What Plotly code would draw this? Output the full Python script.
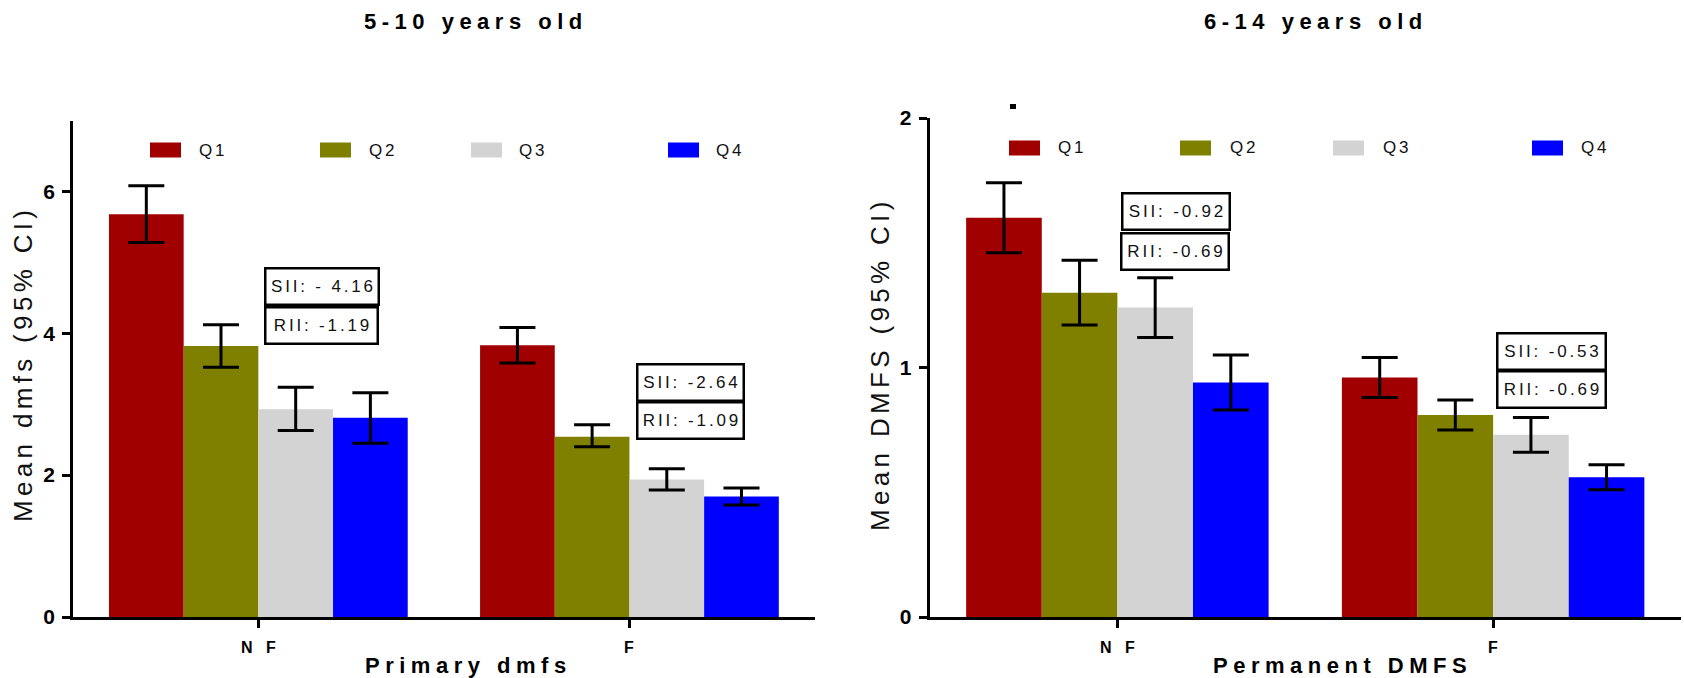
import plotly.graph_objects as go

# ---------------- data ----------------
categories = ["NF", "F"]
quartiles = ["Q1", "Q2", "Q3", "Q4"]
colors = ["#A00000", "#808000", "#D3D3D3", "#0000FF"]

# Primary dmfs, 5-10 years old (rows = Q1..Q4, cols = NF, F)
primary_mean = [[5.68, 3.83], [3.82, 2.54], [2.93, 1.94], [2.81, 1.70]]
primary_low = [[5.28, 3.58], [3.52, 2.40], [2.63, 1.79], [2.45, 1.58]]
primary_high = [[6.08, 4.08], [4.12, 2.71], [3.24, 2.09], [3.16, 1.82]]

# Permanent DMFS, 6-14 years old
permanent_mean = [[1.60, 0.96], [1.30, 0.81], [1.24, 0.73], [0.94, 0.56]]
permanent_low = [[1.46, 0.88], [1.17, 0.75], [1.12, 0.66], [0.83, 0.51]]
permanent_high = [[1.74, 1.04], [1.43, 0.87], [1.36, 0.80], [1.05, 0.61]]

primary_sii = ["- 4.16", "-2.64"]
primary_rii = ["-1.19", "-1.09"]
permanent_sii = ["-0.92", "-0.53"]
permanent_rii = ["-0.69", "-0.69"]

left_ticks = [0, 2, 4, 6]
right_ticks = [0, 1, 2]

# ---------------- helpers ----------------
W, H = 1684, 678
NB = "\u00a0"
S4 = "\u2005"   # 1/4 em
S6 = "\u2006"   # 1/6 em
FONT = "Liberation Sans, Arial, sans-serif"


def sp(text, sep):
    return sep.join(NB if c == " " else c for c in text)


def px(x):
    return x / W


def py(y):
    return 1 - y / H


fig = go.Figure()

panels = [
    ("x", "y", primary_mean, primary_low, primary_high),
    ("x2", "y2", permanent_mean, permanent_low, permanent_high),
]
for xa, ya, mean, low, high in panels:
    for qi, q in enumerate(quartiles):
        m = mean[qi]
        fig.add_trace(go.Bar(
            x=categories, y=m, name=q, xaxis=xa, yaxis=ya,
            marker=dict(color=colors[qi], line=dict(width=0)),
            error_y=dict(type="data", symmetric=False,
                         array=[h - v for h, v in zip(high[qi], m)],
                         arrayminus=[v - l for v, l in zip(m, low[qi])],
                         color="black", thickness=3, width=18),
            showlegend=False,
        ))

axis_common = dict(showline=True, linecolor="black", linewidth=2.5,
                   ticks="outside", ticklen=8, tickwidth=2.5, tickcolor="black",
                   showgrid=False, zeroline=False, automargin=False)
yt_font = dict(family=FONT, size=21, color="black", weight="bold")

fig.update_layout(
    width=W, height=H,
    margin=dict(l=0, r=0, t=0, b=0),
    paper_bgcolor="white", plot_bgcolor="white",
    barmode="group", bargap=0.195, bargroupgap=0,
    showlegend=False,
    xaxis=dict(domain=[px(72.8), px(815)], range=[-0.5, 1.5], type="category",
               tickvals=categories, showticklabels=False, anchor="y", **axis_common),
    yaxis=dict(domain=[py(617), py(120.5)], range=[0, 7], tickvals=left_ticks,
               tickfont=yt_font, ticklabelstandoff=3, anchor="x", **axis_common),
    xaxis2=dict(domain=[px(929.5), px(1681)], range=[-0.5, 1.5], type="category",
                tickvals=categories, showticklabels=False, anchor="y2", **axis_common),
    yaxis2=dict(domain=[py(617), py(118)], range=[0, 2], tickvals=right_ticks,
                tickfont=yt_font, ticklabelstandoff=3, anchor="x2", **axis_common),
)

ann = []
# category labels under each x axis
for xa in ["x", "x2"]:
    for c in categories:
        ann.append(dict(text=sp(c, NB + NB + NB), x=c, y=py(647), xref=xa, yref="paper",
                        xanchor="center", yanchor="middle", showarrow=False,
                        font=dict(family=FONT, size=16, color="black", weight="bold")))
# titles
for text, cx in [("5-10 years old", 472.6), ("6-14 years old", 1313)]:
    ann.append(dict(text=sp(text, S4), x=px(cx), y=py(21), xref="paper", yref="paper",
                    xanchor="center", yanchor="middle", showarrow=False,
                    font=dict(family=FONT, size=22, color="black", weight="bold")))
# axis titles
for text, cx in [("Primary dmfs", 466), ("Permanent DMFS", 1340)]:
    ann.append(dict(text=sp(text, S4), x=px(cx), y=py(665), xref="paper", yref="paper",
                    xanchor="center", yanchor="middle", showarrow=False,
                    font=dict(family=FONT, size=22, color="black", weight="bold")))
for text, cx in [("Mean dmfs (95% CI)", 23), ("Mean DMFS (95% CI)", 880)]:
    ann.append(dict(text=sp(text, S6), x=px(cx), y=py(366), xref="paper", yref="paper",
                    xanchor="center", yanchor="middle", showarrow=False, textangle=-90,
                    font=dict(family=FONT, size=26, color="#111111")))

# SII / RII boxes (positions in data coords)
box_font = dict(family=FONT, size=17, color="#111111")
boxes = [
    ("x", "y", 0.1717, 4.654, 116, "SII: " + primary_sii[0]),
    ("x", "y", 0.170, 4.111, 115, "RII: " + primary_rii[0]),
    ("x", "y", 1.1647, 3.312, 109, "SII: " + primary_sii[1]),
    ("x", "y", 1.1647, 2.766, 109, "RII: " + primary_rii[1]),
    ("x2", "y2", 0.157, 1.626, 110, "SII: " + permanent_sii[0]),
    ("x2", "y2", 0.153, 1.463, 110, "RII: " + permanent_rii[0]),
    ("x2", "y2", 1.1546, 1.063, 111, "SII: " + permanent_sii[1]),
    ("x2", "y2", 1.1546, 0.911, 111, "RII: " + permanent_rii[1]),
]
for xa, ya, bx, by, bw, text in boxes:
    ann.append(dict(text=sp(text, S6), x=bx, y=by, xref=xa, yref=ya,
                    xanchor="center", yanchor="middle", showarrow=False,
                    width=bw - 7, height=32, borderpad=1, borderwidth=2.5,
                    bordercolor="black", bgcolor="white", font=box_font))

# manual legends
shapes = []
legend_rows = [
    ([150, 320, 471, 668], [197, 367, 517, 714], 150),
    ([1009, 1180, 1333, 1532], [1056, 1228, 1381, 1579], 148),
]
for sw_x, tx_x, cy in legend_rows:
    for qi, q in enumerate(quartiles):
        shapes.append(dict(type="rect", xref="paper", yref="paper",
                           x0=px(sw_x[qi]), x1=px(sw_x[qi] + 31),
                           y0=py(cy + 7.5), y1=py(cy - 7.5),
                           fillcolor=colors[qi], line=dict(width=0)))
        ann.append(dict(text=sp(q, S6), x=px(tx_x[qi]), y=py(cy), xref="paper", yref="paper",
                        xanchor="left", yanchor="middle", showarrow=False,
                        font=dict(family=FONT, size=17, color="#111111")))

# small stray mark present in the original figure
shapes.append(dict(type="rect", xref="paper", yref="paper",
                   x0=px(1010), x1=px(1016), y0=py(109), y1=py(104),
                   fillcolor="black", line=dict(width=0)))

fig.update_layout(annotations=ann, shapes=shapes)
fig.write_html("out.html",
               config={"displayModeBar": False},
               post_script="document.body.style.margin='0px';document.body.style.overflow='hidden';")
